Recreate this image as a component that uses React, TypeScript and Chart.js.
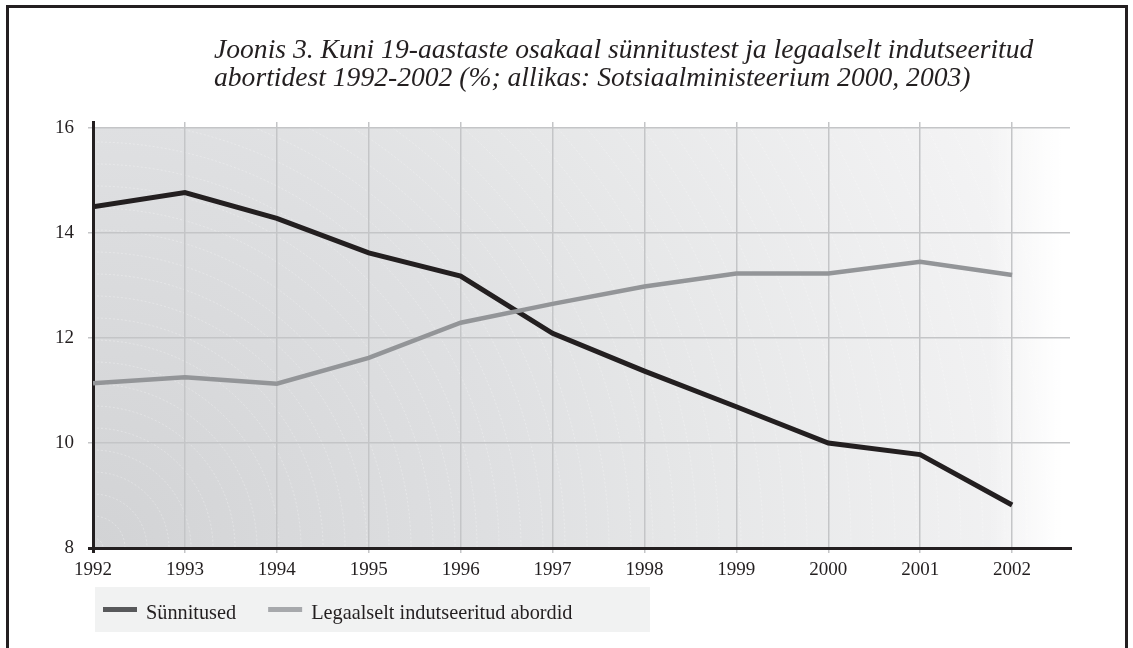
import React, { useEffect, useRef } from "react";
import { Chart, registerables } from "chart.js";

Chart.register(...registerables);

// ---- data ----
const years = [1992, 1993, 1994, 1995, 1996, 1997, 1998, 1999, 2000, 2001, 2002];
const births = [14.5, 14.77, 14.28, 13.62, 13.18, 12.09, 11.37, 10.69, 10.0, 9.78, 8.82];
const abortions = [11.14, 11.25, 11.13, 11.62, 12.29, 12.65, 12.98, 13.23, 13.23, 13.45, 13.2];
const yTicks = [8, 10, 12, 14, 16];
const seriesNames = ["Sünnitused", "Legaalselt indutseeritud abordid"];
const titleLines = [
  "Joonis 3. Kuni 19-aastaste osakaal sünnitustest ja legaalselt indutseeritud",
  "abortidest 1992-2002 (%; allikas: Sotsiaalministeerium 2000, 2003)",
];

// ---- styles ----
const FONT = '"Liberation Serif", "Times New Roman", serif';
const INK = "#231f20";
const GRID = "#c4c5c7";
const lineColors = ["#231f20", "#939598"];
const legendColors = ["#58595b", "#a7a9ac"];

const decorPlugin = {
  id: "decor",
  beforeDraw(chart: any) {
    const { ctx, chartArea, scales } = chart;
    const ys = scales.y;
    ctx.save();
    ctx.fillStyle = "#ffffff";
    ctx.fillRect(0, 0, chart.width, chart.height);

    // plot background (radial gradient from bottom-left, fading out at right)
    const left = chartArea.left;
    const right = chartArea.right - 7;
    const top = ys.getPixelForValue(yTicks[yTicks.length - 1]);
    const bottom = ys.getPixelForValue(yTicks[0]);
    const g = ctx.createRadialGradient(left, bottom, 0, left, bottom, 1150);
    g.addColorStop(0, "#d2d3d5");
    g.addColorStop(0.37, "#dfe0e2");
    g.addColorStop(0.5, "#e5e6e7");
    g.addColorStop(0.82, "#f2f2f3");
    g.addColorStop(1, "#fafafa");
    ctx.fillStyle = g;
    ctx.fillRect(left, top, right - left, bottom - top);
    const fade = ctx.createLinearGradient(right - 75, 0, right, 0);
    fade.addColorStop(0, "rgba(255,255,255,0)");
    fade.addColorStop(1, "rgba(255,255,255,1)");
    ctx.fillStyle = fade;
    ctx.fillRect(right - 75, top, 75, bottom - top);

    // faint concentric arcs
    ctx.save();
    ctx.beginPath();
    ctx.rect(left, top, right - left, bottom - top);
    ctx.clip();
    ctx.strokeStyle = "rgba(255,255,255,0.4)";
    ctx.lineWidth = 0.7;
    ctx.setLineDash([2, 2]);
    for (let r = 10; r < 1000; r += 22) {
      ctx.beginPath();
      ctx.arc(left, bottom, r, -Math.PI / 2, 0);
      ctx.stroke();
    }
    ctx.restore();

    // legend
    const legTop = 587;
    ctx.fillStyle = "#f1f2f2";
    ctx.fillRect(95, legTop, 555, 45);
    ctx.font = `20.3px ${FONT}`;
    ctx.textAlign = "left";
    ctx.textBaseline = "alphabetic";
    let cx = 103;
    seriesNames.forEach((name, i) => {
      ctx.fillStyle = legendColors[i];
      ctx.fillRect(cx, legTop + 20, 34, 5);
      ctx.fillStyle = INK;
      ctx.fillText(name, cx + 43, legTop + 32);
      cx += 43 + ctx.measureText(name).width + 32;
    });

    // outer frame
    ctx.strokeStyle = INK;
    ctx.lineWidth = 3;
    ctx.beginPath();
    ctx.moveTo(7.5, chart.height);
    ctx.lineTo(7.5, 6.5);
    ctx.lineTo(chart.width - 6.5, 6.5);
    ctx.lineTo(chart.width - 6.5, chart.height);
    ctx.stroke();

    // title
    ctx.fillStyle = INK;
    ctx.font = `italic 27.6px ${FONT}`;
    ctx.fillText(titleLines[0], 214, 58);
    ctx.fillText(titleLines[1], 214, 86);
    ctx.restore();
  },
};

export default function App() {
  const canvasRef = useRef<HTMLCanvasElement | null>(null);

  useEffect(() => {
    document.body.style.margin = "0";
    const canvas = canvasRef.current;
    if (!canvas) return;
    const chart = new Chart(canvas, {
      type: "line",
      data: {
        datasets: [
          {
            label: seriesNames[0],
            data: years.map((x, i) => ({ x, y: births[i] })),
            borderColor: lineColors[0],
            backgroundColor: legendColors[0],
            borderWidth: 5,
            pointRadius: 0,
            tension: 0,
            borderJoinStyle: "miter",
            order: 2,
          },
          {
            label: seriesNames[1],
            data: years.map((x, i) => ({ x, y: abortions[i] })),
            borderColor: lineColors[1],
            backgroundColor: legendColors[1],
            borderWidth: 4.5,
            pointRadius: 0,
            tension: 0,
            borderJoinStyle: "miter",
            order: 1,
          },
        ],
      },
      options: {
        animation: false,
        responsive: false,
        devicePixelRatio: 1,
        layout: { padding: { left: 0, top: 122, right: 63, bottom: 60 } },
        scales: {
          x: {
            type: "linear",
            min: years[0],
            max: 2002.63,
            afterBuildTicks: (scale: any) => {
              scale.ticks = years.map((v) => ({ value: v }));
            },
            afterFit: (scale: any) => {
              scale.height = 40;
            },
            ticks: {
              callback: (v: any) => String(v),
              font: { family: FONT, size: 19 },
              color: INK,
              padding: 6,
              maxRotation: 0,
              autoSkip: false,
            },
            grid: {
              color: (c: any) => (c.tick && c.tick.value === years[0] ? INK : GRID),
              lineWidth: (c: any) => (c.tick && c.tick.value === years[0] ? 3 : 1.5),
              tickLength: 5,
            },
            border: { color: INK, width: 3 },
          },
          y: {
            min: yTicks[0],
            max: 16.114,
            afterBuildTicks: (scale: any) => {
              scale.ticks = yTicks.map((v) => ({ value: v }));
            },
            afterFit: (scale: any) => {
              scale.width = 93;
            },
            ticks: {
              callback: (v: any) => String(v),
              font: { family: FONT, size: 19 },
              color: INK,
              padding: 14,
            },
            grid: {
              color: (c: any) => (c.tick && c.tick.value === yTicks[0] ? INK : GRID),
              lineWidth: (c: any) => (c.tick && c.tick.value === yTicks[0] ? 3 : 1.5),
              tickLength: 5,
            },
            border: { color: INK, width: 3 },
          },
        },
        plugins: {
          title: { display: false },
          tooltip: { enabled: false },
          legend: { display: false },
        },
      },
      plugins: [decorPlugin],
    } as any);
    return () => chart.destroy();
  }, []);

  return (
    <canvas
      ref={canvasRef}
      width={1133}
      height={648}
      style={{ display: "block", width: 1133, height: 648 }}
    />
  );
}
